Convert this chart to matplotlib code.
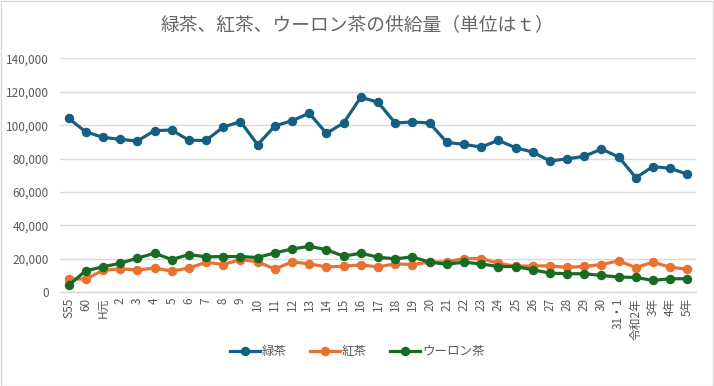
import matplotlib
matplotlib.use("Agg")
import matplotlib.pyplot as plt
from matplotlib.patches import Rectangle

plt.rcParams['font.family'] = ['Noto Sans CJK JP', 'DejaVu Sans']

categories = ["S55", "60", "H元", "2", "3", "4", "5", "6", "7", "8", "9", "10",
              "11", "12", "13", "14", "15", "16", "17", "18", "19", "20", "21",
              "22", "23", "24", "25", "26", "27", "28", "29", "30", "31・1",
              "令和2年", "3年", "4年", "5年"]

green_tea = [104000, 96000, 92700, 91500, 90500, 96700, 97100, 90900, 90900,
             98900, 102100, 88300, 99500, 102700, 107100, 95100, 101300,
             116700, 113700, 101300, 101900, 101300, 89700, 88500, 86900,
             90900, 86500, 83900, 78600, 79800, 81400, 85700, 81000, 68600,
             75200, 74200, 70600]

black_tea = [7800, 8000, 13100, 14100, 13300, 14500, 12700, 14500, 18000,
             16600, 19600, 18200, 13900, 18200, 17000, 15200, 15600, 16400,
             15200, 17000, 16600, 18000, 18200, 20200, 20200, 17400, 15600,
             15800, 15800, 14900, 15500, 16600, 18800, 14800, 18000, 15000,
             13800]

oolong_tea = [4200, 12900, 15200, 17400, 20400, 23400, 19600, 22600, 21200,
              21400, 21400, 20800, 23600, 25900, 27500, 25500, 21600, 23400,
              21000, 20000, 21200, 18000, 16800, 18000, 17000, 15400, 15400,
              13500, 11500, 11100, 11100, 10100, 9100, 8900, 7100, 8100, 8100]

series_names = ["緑茶", "紅茶", "ウーロン茶"]
colors = ["#156082", "#E97132", "#196B24"]

W, H = 714, 386
fig = plt.figure(figsize=(W / 100, H / 100), dpi=100)
fig.patches.append(Rectangle((0.5 / W, 0.5 / H), 1 - 1.5 / W, 1 - 1.5 / H,
                             transform=fig.transFigure, fill=False,
                             edgecolor="#D9D9D9", linewidth=1.0))

left, right = 60 / W, 696 / W
bottom, top = 1 - 292.3 / H, 1 - 58.3 / H
ax = fig.add_axes([left, bottom, right - left, top - bottom])

x = list(range(len(categories)))
for data, name, c in zip([green_tea, black_tea, oolong_tea], series_names, colors):
    ax.plot(x, data, color=c, linewidth=2.3, marker="o", markersize=5.8,
            label=name, solid_joinstyle="round", zorder=3)

ax.set_xlim(-0.5, len(categories) - 0.5)
ax.set_ylim(0, 140000)
ax.set_yticks(range(0, 140001, 20000))
ax.set_yticklabels([f"{v:,}" for v in range(0, 140001, 20000)])
ax.set_xticks(x)
ax.set_xticklabels(categories, rotation=90)

ax.grid(axis="y", color="#D9D9D9", linewidth=1.0, zorder=0)
for s in ["top", "right", "left"]:
    ax.spines[s].set_visible(False)
ax.spines["bottom"].set_color("#D9D9D9")
ax.spines["bottom"].set_linewidth(1.0)
ax.tick_params(axis="both", length=0, colors="#595959", labelsize=8.5)
ax.tick_params(axis="y", pad=8)
ax.tick_params(axis="x", pad=4)

fig.text(0.5, 1 - 25 / H, "緑茶、紅茶、ウーロン茶の供給量（単位はｔ）",
         ha="center", va="center", fontsize=13.5, color="#666666")

leg = fig.legend(loc="center", bbox_to_anchor=(0.5, 1 - 352 / H), ncol=3,
                 frameon=False, fontsize=9, labelcolor="#595959",
                 handlelength=2.4, handletextpad=0.2, columnspacing=1.8)

fig.savefig("out.png", dpi=100)
